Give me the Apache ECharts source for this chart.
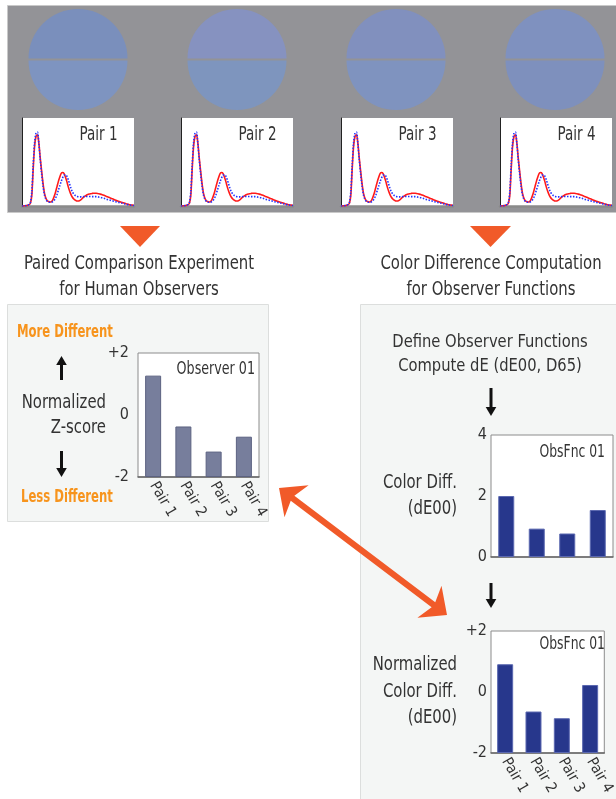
<!DOCTYPE html>
<html><head><meta charset="utf-8">
<script src="https://cdn.jsdelivr.net/npm/echarts@6/dist/echarts.min.js"></script>
<style>html,body{margin:0;padding:0;background:#fff}#c{width:616px;height:799px}</style>
</head><body><div id="c"></div>
<script>
// ---------- DATA ----------
const pairs = ['Pair 1', 'Pair 2', 'Pair 3', 'Pair 4'];
const wavelengths = [380,385,390,395,400,405,410,415,420,425,430,435,440,445,450,455,460,465,470,475,
  480,485,490,495,500,505,510,515,520,525,530,535,540,545,550,555,560,565,570,575,
  580,585,590,595,600,605,610,615,620,625,630,635,640,645,650,655,660,665,670,675,
  680,685,690,695,700,705,710,715,720,725,730,735,740,745,750,755,760,765,770,775,780];
const spectrumTest = [0,0,0.002,0.004,0.008,0.015,0.03,0.12,0.42,0.68,0.79,0.81,0.72,0.55,0.40,0.26,0.15,0.09,0.06,0.05,
  0.046,0.05,0.07,0.11,0.16,0.22,0.28,0.33,0.37,0.38,0.37,0.33,0.28,0.22,0.17,0.13,0.10,0.08,0.066,0.058,
  0.056,0.06,0.07,0.085,0.10,0.112,0.122,0.13,0.136,0.14,0.143,0.145,0.145,0.144,0.142,0.139,0.135,0.13,0.124,0.118,
  0.112,0.105,0.099,0.092,0.086,0.079,0.072,0.066,0.06,0.054,0.049,0.043,0.038,0.033,0.028,0.023,0.019,0.015,0.012,0.01,0.008];
const spectrumRef = [0,0,0.002,0.004,0.009,0.018,0.04,0.16,0.47,0.72,0.83,0.84,0.72,0.53,0.37,0.23,0.13,0.08,0.055,0.045,
  0.042,0.043,0.05,0.065,0.09,0.13,0.18,0.23,0.28,0.32,0.35,0.354,0.34,0.30,0.25,0.20,0.16,0.135,0.12,0.11,
  0.106,0.104,0.104,0.105,0.106,0.107,0.108,0.108,0.108,0.108,0.107,0.107,0.106,0.106,0.104,0.101,0.098,0.094,0.089,0.085,
  0.08,0.074,0.07,0.066,0.062,0.057,0.053,0.048,0.044,0.04,0.038,0.034,0.03,0.026,0.022,0.018,0.015,0.012,0.009,0.007,0.005];
const stimulusTop = ['#7a8fbc', '#8692c0', '#8190be', '#7f91bf'];
const stimulusBottom = ['#7e94c0', '#7e95be', '#7f93bf', '#7e90bd'];
const observerZ = [1.27, -0.37, -1.18, -0.70];
const obsFncDE = [2.0, 0.93, 0.77, 1.54];
const obsFncNorm = [0.91, -0.64, -0.86, 0.23];
const zTickLabels = ['-2', '0', '+2'];
const deTickLabels = ['0', '2', '4'];

// ---------- LAYOUT ----------
const FONT = "'Liberation Sans Narrow','DejaVu Sans Condensed','Roboto',sans-serif";
const TXT = '#333';
const ORANGE = '#f15a29';
const specLeft = [22, 181, 341, 500];
const circleX = [78, 237, 396, 555];

const chart = echarts.init(document.getElementById('c'), null, {renderer: 'canvas'});

const grids = [], xAxes = [], yAxes = [], series = [], graphics = [];

function txt(x, y, s, size, opts) {
  opts = opts || {};
  graphics.push({type: 'text', x: x, y: y, z: 100, scaleX: opts.sx || 0.85,
    style: {text: s, fill: opts.color || TXT, font: (opts.weight || 'normal') + ' ' + size + 'px ' + FONT,
      fontSize: size, fontFamily: FONT, fontWeight: opts.weight || 'normal',
      align: opts.align || 'center', textAlign: opts.align || 'center',
      verticalAlign: 'middle', textVerticalAlign: 'middle'}});
}
function vArrow(x, y1, y2, color) { // arrow tip at y2
  const dir = y2 > y1 ? 1 : -1, hl = 9, hw = 5.3;
  graphics.push({type: 'line', z: 100, shape: {x1: x, y1: y1, x2: x, y2: y2 - dir * hl + dir}, style: {stroke: color, lineWidth: 3}});
  graphics.push({type: 'polygon', z: 100, shape: {points: [[x, y2], [x - hw, y2 - dir * hl], [x + hw, y2 - dir * hl]]}, style: {fill: color}});
}

// backgrounds
graphics.push({type: 'rect', z: -10, shape: {x: 7.5, y: 5.5, width: 620, height: 207}, style: {fill: '#939397', stroke: '#c9c9c9', lineWidth: 1}});
graphics.push({type: 'rect', z: -10, shape: {x: 7.5, y: 304.5, width: 261, height: 217}, style: {fill: '#f4f6f5', stroke: '#dcdedd', lineWidth: 1}});
graphics.push({type: 'rect', z: -10, shape: {x: 360.5, y: 304.5, width: 270, height: 520}, style: {fill: '#f4f6f5', stroke: '#dcdedd', lineWidth: 1}});

// stimulus circles
for (let i = 0; i < 4; i++) {
  graphics.push({type: 'sector', z: -5, shape: {cx: circleX[i], cy: 58.5, r: 49.5, r0: 0, startAngle: Math.PI, endAngle: 2 * Math.PI, clockwise: true}, style: {fill: stimulusTop[i]}});
  graphics.push({type: 'sector', z: -5, shape: {cx: circleX[i], cy: 60.5, r: 49.5, r0: 0, startAngle: 0, endAngle: Math.PI, clockwise: true}, style: {fill: stimulusBottom[i]}});
}

// spectral plots
for (let i = 0; i < 4; i++) {
  grids.push({left: specLeft[i], top: 118, width: 112, height: 88, show: true, backgroundColor: '#fff', borderWidth: 0});
  xAxes.push({type: 'value', gridIndex: i, min: 380, max: 780,
    axisLine: {show: true, onZero: false, lineStyle: {color: '#8a8a8a', width: 2.5}},
    axisTick: {show: false}, axisLabel: {show: false}, splitLine: {show: false}});
  yAxes.push({type: 'value', gridIndex: i, min: 0, max: 1,
    axisLine: {show: true, lineStyle: {color: '#222', width: 1}},
    axisTick: {show: false}, axisLabel: {show: false}, splitLine: {show: false}});
  series.push({type: 'line', xAxisIndex: i, yAxisIndex: i, smooth: 0.3, showSymbol: false, silent: true,
    data: wavelengths.map((w, k) => [w, spectrumTest[k]]), lineStyle: {color: '#ff1a1a', width: 1.6}});
  series.push({type: 'line', xAxisIndex: i, yAxisIndex: i, smooth: 0.3, showSymbol: false, silent: true,
    data: wavelengths.map((w, k) => [w, spectrumRef[k]]), lineStyle: {color: '#2233ff', width: 1.6, type: [1.5, 1.5]}});
  txt(specLeft[i] + 95.5, 135, pairs[i], 20, {align: 'right', sx: 0.75});
}

// bar charts
function barChart(idx, left, top, width, height, values, shift, labels, showX, barColor, borderColor, labelMargin) {
  grids.push({left: left, top: top, width: width, height: height, show: true, backgroundColor: '#fff', borderColor: '#8c8c8c', borderWidth: 1});
  xAxes.push({type: 'category', gridIndex: idx, data: pairs,
    axisLine: {show: true, lineStyle: {color: '#666', width: 1.5}}, axisTick: {show: false},
    axisLabel: {show: showX, rotate: -60, color: TXT, fontSize: 15, fontFamily: FONT, margin: 6}});
  yAxes.push({type: 'value', gridIndex: idx, min: 0, max: 4, interval: 2,
    axisLine: {show: false}, axisTick: {show: false}, splitLine: {show: false},
    axisLabel: {color: TXT, fontSize: 16, fontFamily: FONT, margin: labelMargin, formatter: v => labels[Math.round(v / 2)]}});
  series.push({type: 'bar', xAxisIndex: idx, yAxisIndex: idx, barWidth: 16, silent: true,
    data: values.map(v => +(v + shift).toFixed(3)),
    itemStyle: {color: barColor, borderColor: borderColor, borderWidth: 1}});
}
barChart(4, 138, 353, 121, 124, observerZ, 2, zTickLabels, true, '#777e9c', '#5c6281', 9);
barChart(5, 491, 435, 122, 122, obsFncDE, 0, deTickLabels, false, '#27378c', '#5b68b0', 4);
barChart(6, 491, 631, 122, 122, obsFncNorm, 2, zTickLabels, true, '#27378c', '#5b68b0', 4);

txt(255, 370, 'Observer 01', 17, {align: 'right', sx: 0.83});
txt(605, 453, 'ObsFnc 01', 17, {align: 'right', sx: 0.81});
txt(605, 645, 'ObsFnc 01', 17, {align: 'right', sx: 0.81});

// orange triangles + titles
graphics.push({type: 'polygon', z: 100, shape: {points: [[120, 226], [160, 226], [140, 247]]}, style: {fill: ORANGE}});
graphics.push({type: 'polygon', z: 100, shape: {points: [[470, 226], [511, 226], [490.5, 247]]}, style: {fill: ORANGE}});
txt(139, 264, 'Paired Comparison Experiment', 19, {sx: 0.87});
txt(139, 290, 'for Human Observers', 19, {sx: 0.87});
txt(491, 264, 'Color Difference Computation', 19, {sx: 0.87});
txt(491, 290, 'for Observer Functions', 19, {sx: 0.87});

// left panel texts
txt(17, 332, 'More Different', 18, {align: 'left', color: '#f7941d', sx: 0.72, weight: 'bold'});
txt(21, 497, 'Less Different', 18, {align: 'left', color: '#f7941d', sx: 0.72, weight: 'bold'});
txt(106, 403, 'Normalized', 19, {align: 'right', sx: 0.87});
txt(106, 428, 'Z-score', 19, {align: 'right', sx: 0.87});
vArrow(61.5, 380, 356, '#111');
vArrow(61.5, 451, 477, '#111');

// right panel texts
txt(490, 342, 'Define Observer Functions', 18, {sx: 0.91});
txt(490, 366, 'Compute dE (dE00, D65)', 18, {sx: 0.91});
vArrow(491, 388, 416, '#111');
vArrow(491, 583, 608, '#111');
txt(457, 483, 'Color Diff.', 19, {align: 'right', sx: 0.87});
txt(457, 509, '(dE00)', 19, {align: 'right', sx: 0.87});
txt(457, 665, 'Normalized', 19, {align: 'right', sx: 0.87});
txt(457, 692, 'Color Diff.', 19, {align: 'right', sx: 0.87});
txt(457, 718, '(dE00)', 19, {align: 'right', sx: 0.87});

// orange double arrow
(function () {
  const p1 = [279, 488], p2 = [447, 615];
  const dx = p2[0] - p1[0], dy = p2[1] - p1[1], L = Math.hypot(dx, dy);
  const u = [dx / L, dy / L], n = [-u[1], u[0]];
  const hl = 22, hw = 20, notch = 17, sw = 3;
  const P = (b, a, s) => [b[0] + u[0] * a + n[0] * s, b[1] + u[1] * a + n[1] * s];
  const pts = [
    p1, P(p1, hl, hw), P(p1, notch, sw), P(p2, -notch, sw), P(p2, -hl, hw),
    p2, P(p2, -hl, -hw), P(p2, -notch, -sw), P(p1, notch, -sw), P(p1, hl, -hw)
  ];
  graphics.push({type: 'polygon', z: 110, shape: {points: pts}, style: {fill: ORANGE}});
})();

chart.setOption({
  animation: false,
  backgroundColor: '#fff',
  grid: grids, xAxis: xAxes, yAxis: yAxes, series: series,
  graphic: {elements: graphics}
});
</script></body></html>
